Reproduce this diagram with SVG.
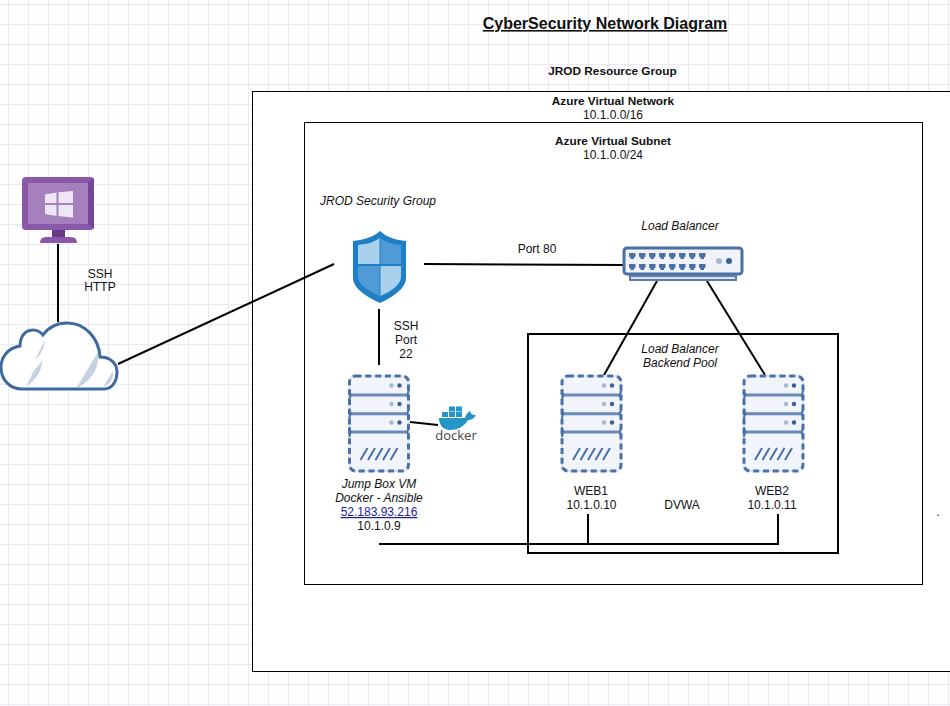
<svg xmlns="http://www.w3.org/2000/svg" width="950" height="706" viewBox="0 0 950 706">
<style>
text{font-family:"Liberation Sans",Arial,sans-serif;font-size:12px;fill:#111;text-anchor:middle}
.b{font-weight:bold;font-size:11.800px}.i{font-style:italic}
.box{fill:#fff;stroke:#000;stroke-width:1}
.con{fill:none;stroke:#000;stroke-width:2}
.port{fill:#4a70a6}
</style>
<defs>
<pattern id="minor" width="4" height="4" patternUnits="userSpaceOnUse" x="0.5" y="0.5"><path d="M4 0H0V4" fill="none" stroke="#f9f9fd" stroke-width="1"/></pattern>
<pattern id="major" width="20" height="20" patternUnits="userSpaceOnUse" x="8" y="4"><path d="M20 .5H.5V20" fill="none" stroke="#e9e8f4" stroke-width="1"/></pattern>
<path id="p" class="port" d="M0 0H6.500V3.500L5 4.500V6H1.500V4.500L0 3.500Z"/>
<g id="server">
<rect x="1" y="1" width="59" height="95" rx="6" fill="#f1f4fa" stroke="#dbe3f0" stroke-width="2"/>
<rect x="1" y="1" width="59" height="95" rx="6" fill="none" stroke="#4a70a6" stroke-width="3" stroke-dasharray="6 3.800"/>
<path d="M1 15Q1 19 3 20Q1 21 1 25M60 15Q60 19 58 20Q60 21 60 25M1 33.700Q1 37.700 3 38.700Q1 39.700 1 43.700M60 33.700Q60 37.700 58 38.700Q60 39.700 60 43.700M1 52Q1 56 3 57Q1 58 1 62M60 52Q60 56 58 57Q60 58 60 62" fill="none" stroke="#4a70a6" stroke-width="2"/>
<path d="M3 20H58M3 38.700H58M3 57H58" stroke="#6a8abb" stroke-width="3"/>
<g fill="#a9b8d2"><circle cx="43" cy="10.500" r="2.200"/><circle cx="43" cy="29" r="2.200"/><circle cx="43" cy="47.500" r="2.200"/></g>
<g fill="#3d6094"><circle cx="51" cy="10.500" r="2.200"/><circle cx="51" cy="29" r="2.200"/><circle cx="51" cy="47.500" r="2.200"/></g>
<path d="M12 85L19 73M19.500 85L26.500 73M27 85L34 73M34.500 85L41.500 73M42 85L49 73" stroke="#4a70a6" stroke-width="2"/>
</g>
</defs>
<rect width="950" height="706" fill="#fff"/>
<rect width="950" height="706" fill="url(#minor)"/>
<rect width="950" height="706" fill="url(#major)"/>
<g id="resource-group"><rect class="box" x="252.500" y="91.500" width="710" height="580"/></g>
<g id="virtual-subnet"><rect class="box" x="304.500" y="122.500" width="618" height="462"/></g>
<g id="backend-pool"><rect x="528" y="334" width="310" height="219" fill="#fff" stroke="#000" stroke-width="2"/></g>
<g id="labels">
<text x="605" y="29" style="font-size:16px;font-weight:bold;text-decoration:underline">CyberSecurity Network Diagram</text>
<text class="b" x="612.500" y="75">JROD Resource Group</text>
<text class="b" x="613" y="105">Azure Virtual Network</text>
<text x="613" y="119">10.1.0.0/16</text>
<text class="b" x="613" y="145">Azure Virtual Subnet</text>
<text x="613" y="159">10.1.0.0/24</text>
<text class="i" x="378" y="205">JROD Security Group</text>
<text class="i" x="680" y="230">Load Balancer</text>
<text x="537" y="253">Port 80</text>
<text x="406" y="330">SSH</text>
<text x="406" y="344">Port</text>
<text x="406" y="358">22</text>
<text x="100" y="278">SSH</text>
<text x="100" y="291">HTTP</text>
<text class="i" x="680" y="353">Load Balancer</text>
<text class="i" x="680" y="367">Backend Pool</text>
<text x="591" y="495">WEB1</text>
<text x="591.500" y="509">10.1.0.10</text>
<text x="682" y="509">DVWA</text>
<text x="772" y="495">WEB2</text>
<text x="772" y="509">10.1.0.11</text>
<text class="i" x="379" y="488">Jump Box VM</text>
<text class="i" x="379" y="502">Docker - Ansible</text>
<text x="379" y="516" style="fill:#1a1aa6;text-decoration:underline">52.183.93.216</text>
<text x="379" y="530">10.1.0.9</text>
<text x="938" y="516">.</text>
</g>
<g id="connectors" class="con">
<path d="M58 244V322"/>
<path d="M118 364L334 264"/>
<path d="M424 264L625 265"/>
<path d="M379 309V365"/>
<path d="M657 281L604 375"/>
<path d="M707 281L765 375"/>
<path d="M410 422L438 425"/>
<path d="M379 544H778V514"/>
<path d="M588 514V544"/>
</g>
<g id="workstation">
<rect x="22" y="177" width="72" height="53" rx="4" fill="#8a58a8"/>
<path d="M28 183H88L94 178V229L88 224H28L22 229L28 224Z" fill="#75459a"/>
<rect x="28" y="183" width="60" height="41" fill="#a680bd"/>
<path d="M45 194.500L56.500 192.500V203H45ZM58.500 192.200L73 191V203H58.500ZM45 205H56.500V216L45 214ZM58.500 205H73V217.500L58.500 216Z" fill="#efe6f4"/>
<path d="M52 230H65V237H52Z" fill="#6a3a8a"/><path d="M40 243Q40 237 46 237H71Q77 237 77 243Z" fill="#8a58a8"/>
</g>
<g id="internet-cloud">
<path d="M22 389H104C113 389 117 380 117 372C117 363 110 357 100 357C99 338 85 323 67 323C56 323 48 328 43 335C38 329 31 329 26 332C21 336 20 341 20 346C8 348 1 357 1 367C1 380 10 389 22 389Z" fill="#fff" stroke="#3f6a9f" stroke-width="3"/>
<path d="M45 340Q44 351 37 358L35 360ZM42 361Q42 375 26 387L33 372ZM77 387L98 352Q100 375 79 387ZM103 387L113 371Q114 383 103 387Z" fill="#c6d2e2"/>
</g>
<g id="security-group">
<path d="M380 231C372 238 362 240 353 241V278C353 289 369 298 380 303C391 298 406 289 406 278V241C396 240 388 238 380 231Z" fill="#1e7fc6"/>
<path d="M379.500 238C373 243 366 244 358 245V264H379.500Z" fill="#a9d0ec"/>
<path d="M380.500 238C386 243 394 244 401 245V264H380.500Z" fill="#509ad5"/>
<path d="M358 266H379.500V296C370 292 358 285 358 277Z" fill="#509ad5"/>
<path d="M380.500 266H401V277C401 285 390 292 380.500 296Z" fill="#a9d0ec"/>
</g>
<g id="load-balancer">
<rect x="624" y="248" width="118" height="26" rx="3" fill="#f0f3f9" stroke="#4a70a6" stroke-width="3"/>
<rect x="630" y="276" width="106" height="4" fill="#dbe3f0" stroke="#5a7db0" stroke-width="2"/>
<use href="#p" x="629" y="253"/><use href="#p" x="639" y="253"/><use href="#p" x="649" y="253"/><use href="#p" x="659" y="253"/><use href="#p" x="669" y="253"/><use href="#p" x="679" y="253"/><use href="#p" x="689" y="253"/><use href="#p" x="699" y="253"/>
<use href="#p" x="629" y="264"/><use href="#p" x="639" y="264"/><use href="#p" x="649" y="264"/><use href="#p" x="659" y="264"/><use href="#p" x="669" y="264"/><use href="#p" x="679" y="264"/><use href="#p" x="689" y="264"/><use href="#p" x="699" y="264"/>
<circle cx="719" cy="261" r="3" fill="#a9b8d2"/><circle cx="729" cy="261" r="3" fill="#3d6094"/>
</g>
<use id="jump-box" href="#server" x="348.500" y="375"/>
<use id="web1" href="#server" x="561" y="375"/>
<use id="web2" href="#server" x="743" y="375"/>
<g id="docker">
<path d="M439 418H465C466 414 468 412 470 411C471 414 472 415 476 415C474 419 471 420 468 420C464 427 457 430 450 430C443 430 439 425 439 418Z" fill="#2496c8"/>
<path d="M442 412h6v5h-6ZM449 412h6v5h-6ZM456 412h6v5h-6ZM449 406.500h6v5h-6ZM456 406.500h6v5h-6ZM456 407v-1h0Z" fill="#2496c8"/>
<text x="456" y="440" style="font-family:'Open Sans',sans-serif;font-size:13px;fill:#444">docker</text>
</g>
</svg>
